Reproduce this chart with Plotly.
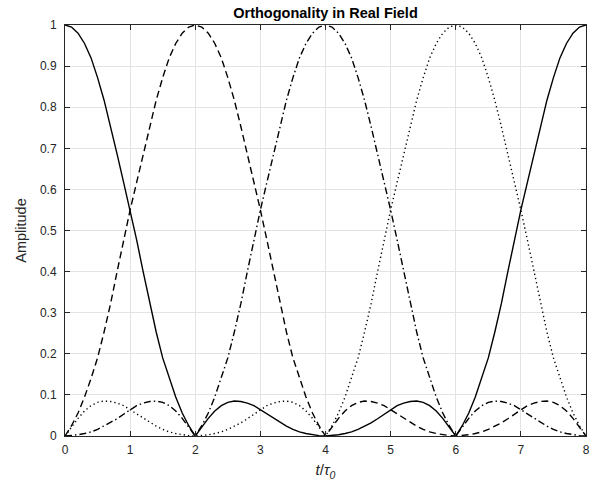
import plotly.graph_objects as go

t_vals = [round(i * 0.1, 1) for i in range(81)]

solid = [1.000, 0.995, 0.980, 0.955, 0.920, 0.872, 0.817, 0.753, 0.686, 0.617, 0.550, 0.477, 0.400, 0.322, 0.253, 0.190, 0.140, 0.095, 0.056, 0.025, 0.000,
         0.022, 0.043, 0.061, 0.074, 0.082, 0.085, 0.084, 0.080, 0.074, 0.064, 0.053, 0.042, 0.032, 0.024, 0.016, 0.010, 0.006, 0.003, 0.001, 0.000,
         0.001, 0.003, 0.006, 0.010, 0.016, 0.024, 0.032, 0.042, 0.053, 0.064, 0.074, 0.080, 0.084, 0.085, 0.082, 0.074, 0.061, 0.043, 0.022, 0.000,
         0.025, 0.056, 0.095, 0.140, 0.190, 0.253, 0.322, 0.400, 0.477, 0.550, 0.617, 0.686, 0.753, 0.817, 0.872, 0.920, 0.955, 0.980, 0.995, 1.000]

dashed = [0.000, 0.025, 0.056, 0.095, 0.140, 0.190, 0.253, 0.322, 0.400, 0.477, 0.550, 0.617, 0.686, 0.753, 0.817, 0.872, 0.920, 0.955, 0.980, 0.995, 1.000,
          0.995, 0.980, 0.955, 0.920, 0.872, 0.817, 0.753, 0.686, 0.617, 0.550, 0.477, 0.400, 0.322, 0.253, 0.190, 0.140, 0.095, 0.056, 0.025, 0.000,
          0.022, 0.043, 0.061, 0.074, 0.082, 0.085, 0.084, 0.080, 0.074, 0.064, 0.053, 0.042, 0.032, 0.024, 0.016, 0.010, 0.006, 0.003, 0.001, 0.000,
          0.001, 0.003, 0.006, 0.010, 0.016, 0.024, 0.032, 0.042, 0.053, 0.064, 0.074, 0.080, 0.084, 0.085, 0.082, 0.074, 0.061, 0.043, 0.022, 0.000]

dashdot = [0.000, 0.001, 0.003, 0.006, 0.010, 0.016, 0.024, 0.032, 0.042, 0.053, 0.064, 0.074, 0.080, 0.084, 0.085, 0.082, 0.074, 0.061, 0.043, 0.022, 0.000,
           0.025, 0.056, 0.095, 0.140, 0.190, 0.253, 0.322, 0.400, 0.477, 0.550, 0.617, 0.686, 0.753, 0.817, 0.872, 0.920, 0.955, 0.980, 0.995, 1.000,
           0.995, 0.980, 0.955, 0.920, 0.872, 0.817, 0.753, 0.686, 0.617, 0.550, 0.477, 0.400, 0.322, 0.253, 0.190, 0.140, 0.095, 0.056, 0.025, 0.000,
           0.022, 0.043, 0.061, 0.074, 0.082, 0.085, 0.084, 0.080, 0.074, 0.064, 0.053, 0.042, 0.032, 0.024, 0.016, 0.010, 0.006, 0.003, 0.001, 0.000]

dotted = [0.000, 0.022, 0.043, 0.061, 0.074, 0.082, 0.085, 0.084, 0.080, 0.074, 0.064, 0.053, 0.042, 0.032, 0.024, 0.016, 0.010, 0.006, 0.003, 0.001, 0.000,
          0.001, 0.003, 0.006, 0.010, 0.016, 0.024, 0.032, 0.042, 0.053, 0.064, 0.074, 0.080, 0.084, 0.085, 0.082, 0.074, 0.061, 0.043, 0.022, 0.000,
          0.025, 0.056, 0.095, 0.140, 0.190, 0.253, 0.322, 0.400, 0.477, 0.550, 0.617, 0.686, 0.753, 0.817, 0.872, 0.920, 0.955, 0.980, 0.995, 1.000,
          0.995, 0.980, 0.955, 0.920, 0.872, 0.817, 0.753, 0.686, 0.617, 0.550, 0.477, 0.400, 0.322, 0.253, 0.190, 0.140, 0.095, 0.056, 0.025, 0.000]

x_ticks = [0, 1, 2, 3, 4, 5, 6, 7, 8]
y_ticks = [0, 0.1, 0.2, 0.3, 0.4, 0.5, 0.6, 0.7, 0.8, 0.9, 1]
y_tick_labels = ["0", "0.1", "0.2", "0.3", "0.4", "0.5", "0.6", "0.7", "0.8", "0.9", "1"]

FONT = "Liberation Sans, Arial, sans-serif"

fig = go.Figure()
series = [
    (solid, "solid"),
    (dashed, "7px,4px"),
    (dashdot, "7px,3px,1.5px,3px"),
    (dotted, "1.3px,3px"),
]
for ys, dash in series:
    fig.add_trace(go.Scatter(x=t_vals, y=ys, mode="lines",
                             line=dict(color="black", width=1.4, dash=dash),
                             showlegend=False, hoverinfo="skip"))

axis_common = dict(
    showline=True, linecolor="#262626", linewidth=1, mirror="ticks",
    ticks="inside", ticklen=5, tickcolor="#262626", tickwidth=1,
    showgrid=True, gridcolor="#e3e3e3", gridwidth=1, zeroline=False,
    tickfont=dict(family=FONT, size=12, color="#262626"),
)

fig.update_xaxes(range=[0, 8], tickvals=x_ticks, ticktext=[str(v) for v in x_ticks],
                 ticklabelstandoff=3,
                 title=dict(text="<i>t</i>/<i>τ</i><sub><i>0</i></sub>",
                            font=dict(family=FONT, size=15, color="#262626"), standoff=8),
                 **axis_common)
fig.update_yaxes(range=[0, 1], tickvals=y_ticks, ticktext=y_tick_labels,
                 ticklabelstandoff=5,
                 title=dict(text="Amplitude", font=dict(family=FONT, size=14.5, color="#262626"),
                            standoff=9),
                 **axis_common)

fig.update_layout(
    width=602, height=494,
    margin=dict(l=65, r=16, t=25, b=58),
    paper_bgcolor="white", plot_bgcolor="white",
    title=dict(text="<b>Orthogonality in Real Field</b>", x=0.5, xref="paper",
               y=0.985, yref="container", yanchor="top",
               font=dict(family=FONT, size=14.5, color="black")),
)

fig.write_html("out.html")
